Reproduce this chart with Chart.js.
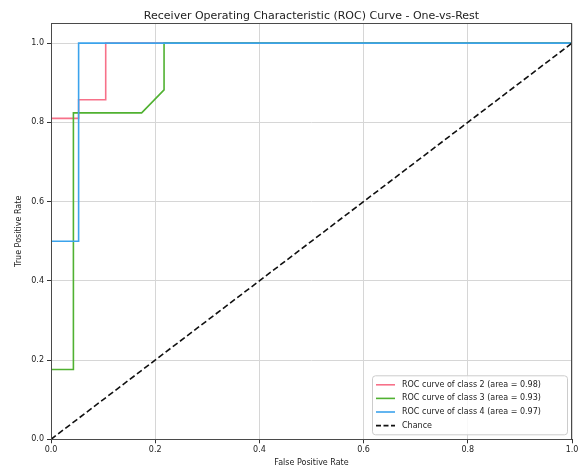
<!DOCTYPE html>
<html>
<head>
<meta charset="utf-8">
<script src="https://cdn.jsdelivr.net/npm/chart.js@4.4.0/dist/chart.umd.min.js"></script>
<style>
  html, body { margin: 0; padding: 0; background: #fff; }
  canvas { display: block; }
</style>
</head>
<body>
<canvas id="roc" width="581" height="468"></canvas>
<script>
// ROC curve data (one-vs-rest)
const fprClass2 = [0, 0, 0.053, 0.053, 0.105, 0.105, 1];
const tprClass2 = [0, 0.81, 0.81, 0.857, 0.857, 1, 1];
const fprClass3 = [0, 0, 0.043, 0.043, 0.174, 0.217, 0.217, 1];
const tprClass3 = [0, 0.176, 0.176, 0.824, 0.824, 0.882, 1, 1];
const fprClass4 = [0, 0, 0.053, 0.053, 1];
const tprClass4 = [0, 0.5, 0.5, 1, 1];
const fprChance = [0, 1];
const tprChance = [0, 1];

const seriesLabels = [
    'ROC curve of class 2 (area = 0.98)',
    'ROC curve of class 3 (area = 0.93)',
    'ROC curve of class 4 (area = 0.97)',
    'Chance'
];
const xTicks = [0, 0.2, 0.4, 0.6, 0.8, 1.0];
const yTicks = [0, 0.2, 0.4, 0.6, 0.8, 1.0];
const titleText = 'Receiver Operating Characteristic (ROC) Curve - One-vs-Rest';

const FONT = "'DejaVu Sans', sans-serif";
const colors = ['#f77189', '#50b131', '#3ba3ec', '#111111'];

const toPoints = (xs, ys) => xs.map((x, i) => ({ x, y: ys[i] }));

function curve(label, xs, ys, color, order, dash) {
    return {
        label,
        data: toPoints(xs, ys),
        borderColor: color,
        backgroundColor: color,
        borderWidth: 1.6,
        borderDash: dash || [],
        pointRadius: 0,
        tension: 0,
        fill: false,
        order,
    };
}

// spines drawn over the lines, like matplotlib
const framePlugin = {
    id: 'frame',
    afterDatasetsDraw(chart) {
        const { ctx, chartArea: a } = chart;
        ctx.save();
        ctx.strokeStyle = '#4a4a4a';
        ctx.lineWidth = 1;
        ctx.strokeRect(Math.round(a.left) + 0.5, Math.round(a.top) + 0.5,
            Math.round(a.right - a.left) - 1, Math.round(a.bottom - a.top));
        ctx.restore();
    }
};

// title centred over the plot area (not the whole canvas)
const axesTitlePlugin = {
    id: 'axesTitle',
    afterDraw(chart) {
        const { ctx, chartArea: a } = chart;
        ctx.save();
        ctx.font = '11px ' + FONT;
        ctx.fillStyle = '#222';
        ctx.textAlign = 'center';
        ctx.textBaseline = 'alphabetic';
        ctx.fillText(titleText, (a.left + a.right) / 2, 18.5);
        ctx.restore();
    }
};

// legend box inside the lower right of the plot
const legendPlugin = {
    id: 'innerLegend',
    afterDraw(chart) {
        const { ctx, chartArea: a } = chart;
        const w = 195, rowH = 13.6, h = 59;
        const x0 = a.right - 5 - w, y0 = a.bottom - 5 - h;
        ctx.save();
        ctx.beginPath();
        ctx.roundRect(x0 + 0.5, y0 + 0.5, w, h, 3);
        ctx.fillStyle = 'rgba(255,255,255,0.85)';
        ctx.fill();
        ctx.strokeStyle = '#cccccc';
        ctx.lineWidth = 1;
        ctx.stroke();

        ctx.font = '8px ' + FONT;
        ctx.textBaseline = 'middle';
        ctx.fillStyle = '#222';
        chart.data.datasets.forEach((ds, i) => {
            const y = y0 + 9.5 + i * rowH;
            ctx.beginPath();
            ctx.setLineDash(ds.borderDash.length ? [5, 2.5] : []);
            ctx.strokeStyle = ds.borderColor;
            ctx.lineWidth = 1.6;
            ctx.moveTo(x0 + 4, y);
            ctx.lineTo(x0 + 23, y);
            ctx.stroke();
            ctx.setLineDash([]);
            ctx.fillText(ds.label, x0 + 30, y);
        });
        ctx.restore();
    }
};

const gridColor = '#d6d6d6';

new Chart(document.getElementById('roc'), {
    type: 'line',
    data: {
        datasets: [
            curve(seriesLabels[0], fprClass2, tprClass2, colors[0], 3),
            curve(seriesLabels[1], fprClass3, tprClass3, colors[1], 2),
            curve(seriesLabels[2], fprClass4, tprClass4, colors[2], 1),
            curve(seriesLabels[3], fprChance, tprChance, colors[3], 0, [6, 3]),
        ]
    },
    options: {
        responsive: false,
        animation: false,
        layout: { padding: { left: 0, right: 9, top: 23.3, bottom: 0 } },
        plugins: {
            legend: { display: false },
            tooltip: { enabled: false },
            title: { display: false }
        },
        scales: {
            x: {
                type: 'linear',
                min: 0, max: 1,
                afterBuildTicks: s => { s.ticks = xTicks.map(v => ({ value: v })); },
                afterFit: s => { s.height = 28.7; },
                ticks: {
                    color: '#222',
                    padding: 2,
                    font: { family: FONT, size: 8 },
                    callback: v => Number(v).toFixed(1),
                    maxRotation: 0
                },
                grid: { color: gridColor, tickColor: '#333', tickLength: 4 },
                border: { display: false },
                title: {
                    display: true,
                    text: 'False Positive Rate',
                    color: '#222',
                    font: { family: FONT, size: 8 },
                    padding: { top: 0, bottom: 0 }
                }
            },
            y: {
                type: 'linear',
                min: 0, max: 1.05,
                afterBuildTicks: s => { s.ticks = yTicks.map(v => ({ value: v })); },
                afterFit: s => { s.width = 51; },
                ticks: {
                    color: '#222',
                    padding: 3,
                    font: { family: FONT, size: 8 },
                    callback: v => Number(v).toFixed(1)
                },
                grid: { color: gridColor, tickColor: '#333', tickLength: 4 },
                border: { display: false },
                title: {
                    display: true,
                    text: 'True Positive Rate',
                    color: '#222',
                    font: { family: FONT, size: 8 },
                    padding: { top: 14, bottom: 0 }
                }
            }
        }
    },
    plugins: [framePlugin, axesTitlePlugin, legendPlugin]
});
</script>
</body>
</html>
